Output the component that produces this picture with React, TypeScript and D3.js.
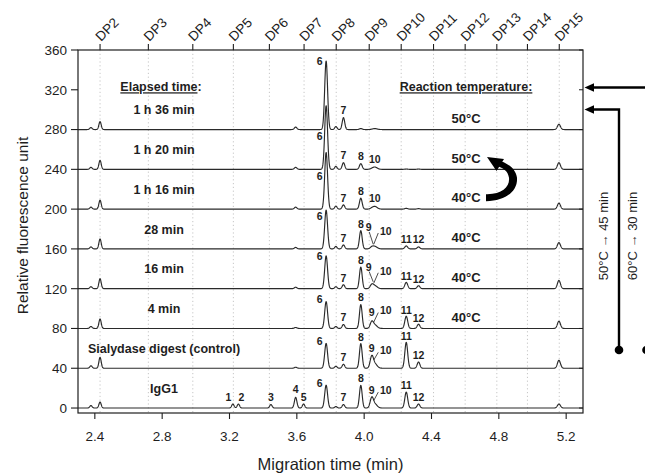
import React from "react";
import * as d3 from "d3";

// ---------- data ----------
const dpLabels = ["DP2", "DP3", "DP4", "DP5", "DP6", "DP7", "DP8", "DP9", "DP10", "DP11", "DP12", "DP13", "DP14", "DP15"];
const dpTimes = [2.431, 2.718, 2.982, 3.223, 3.437, 3.643, 3.834, 4.03, 4.22, 4.412, 4.6, 4.788, 4.97, 5.159];

const xTicks = [2.4, 2.8, 3.2, 3.6, 4.0, 4.4, 4.8, 5.2];
const yTicks = [0, 40, 80, 120, 160, 200, 240, 280, 320, 360];

const traceNames = ["IgG1", "Sialydase digest (control)", "4 min", "16 min", "28 min", "1 h 16 min", "1 h 20 min", "1 h 36 min"];
const traceOffsets = [0, 40, 80, 120, 160, 200, 240, 280];
const traceTemps = ["", "", "40°C", "40°C", "40°C", "40°C", "50°C", "50°C"];

// peak table (migration time, width)
const peakIds = ["a", "DP2", "1", "2", "3", "4", "5", "6", "b", "7", "8", "9", "10", "11", "12", "DP15"];
const peakTimes = [2.377, 2.431, 3.22, 3.253, 3.446, 3.593, 3.64, 3.774, 3.832, 3.877, 3.98, 4.045, 4.063, 4.25, 4.323, 5.157];
const peakSigmas = [0.007, 0.0068, 0.007, 0.007, 0.007, 0.0075, 0.007, 0.0085, 0.007, 0.0075, 0.008, 0.0095, 0.014, 0.0085, 0.008, 0.009];

// peak heights per electropherogram (RFU above its own baseline)
const heightsIgG1 = [2.5, 6, 4, 4, 3.5, 10.7, 4, 23, 1.5, 3.5, 22.7, 9.5, 4, 16, 4, 4];
const heightsControl = [2.5, 11, 0, 0, 0, 1, 0, 25, 2, 4, 24.7, 11, 4.5, 26, 6.3, 8];
const heights4min = [2, 9.5, 0, 0, 0, 1, 0, 27, 2, 4, 24, 6, 3.5, 12.3, 4.3, 7.3];
const heights16min = [2, 10, 0, 0, 0, 1.5, 0, 33, 2, 4, 21.7, 3.5, 3, 6.3, 3, 8.3];
const heights28min = [2, 10, 0, 0, 0, 1.5, 0, 39, 2.5, 4, 18.3, 1.5, 2.5, 3, 2, 6.3];
const heights1h16 = [2, 9, 0, 0, 0, 2, 0, 57, 3, 4.3, 11, 0.5, 2.7, 0.8, 0.5, 6];
const heights1h20 = [2, 9, 0, 0, 0, 2, 0, 64, 3, 6.7, 5.7, 0.3, 2.3, 0.3, 0.3, 6.7];
const heights1h36 = [2, 8, 0, 0, 0, 2.5, 0, 69, 3, 12, 1, 0, 1, 0, 0, 5.3];

const traceHeights = [heightsIgG1, heightsControl, heights4min, heights16min, heights28min, heights1h16, heights1h20, heights1h36];

const labelSets = [
  ["1", "2", "3", "4", "5", "6", "7", "8", "9", "10", "11", "12"],
  ["6", "7", "8", "9", "10", "11", "12"],
  ["6", "7", "8", "9", "10", "11", "12"],
  ["6", "7", "8", "9", "10", "11", "12"],
  ["6", "7", "8", "9", "10", "11", "12"],
  ["6", "7", "8", "10"],
  ["6", "7", "8", "10"],
  ["6", "7"],
];

// ---------- helpers ----------
const W = 645;
const H = 473;
const FONT = "'Liberation Sans', Arial, Helvetica, sans-serif";

const x = d3.scaleLinear().domain([2.3, 5.3]).range([78, 583]);
const y = d3.scaleLinear().domain([-5, 360]).range([413, 50]);

function signal(hs: number[], t: number): number {
  let s = 0;
  for (let i = 0; i < peakTimes.length; i++) {
    if (!hs[i]) continue;
    const z = (t - peakTimes[i]) / peakSigmas[i];
    if (Math.abs(z) < 8) s += hs[i] * Math.exp(-0.5 * z * z);
  }
  return s;
}

const sampleTimes = d3.range(2.3, 5.3001, 0.0012);
const lineGen = d3
  .line<[number, number]>()
  .x((d) => x(d[0]))
  .y((d) => y(d[1]));

export default function App() {
  const ink = "#1e1e1e";
  const traceColor = "#2a2a2a";

  const paths = traceHeights.map((hs, i) =>
    lineGen(sampleTimes.map((t) => [t, traceOffsets[i] + signal(hs, t)] as [number, number]))
  );

  // peak labels
  const labelEls: React.ReactNode[] = [];
  traceHeights.forEach((hs, i) => {
    const base = traceOffsets[i];
    const labels = labelSets[i];
    const has9 = labels.includes("9");
    labels.forEach((lab) => {
      const idx = peakIds.indexOf(lab);
      const t = peakTimes[idx];
      const top = signal(hs, t);
      let px = x(t);
      let v = top + 7;
      let leader: [number, number, number, number] | null = null;
      if (lab === "6") {
        px -= 6.5;
        v = i === traceHeights.length - 1 ? top : Math.min(top + 2, 33);
      } else if (lab === "1") {
        px -= 4.5;
      } else if (lab === "2") {
        px += 3;
      } else if (lab === "4") {
        v = top + 8;
      } else if (lab === "7") {
        v = Math.max(top + 7, 10);
      } else if (lab === "9") {
        if (top + 7 < 14) {
          v = 22;
          px -= 3;
          leader = [px + 0.5, y(base + v) + 5, x(t) + 1.5, y(base + top) - 2];
        } else {
          v = Math.max(top + 7, 16);
        }
      } else if (lab === "10") {
        if (has9) {
          v = 18;
          px += 11;
          leader = [x(t) - 1, y(base + top + 2), px - 7.5, y(base + v) + 2];
        } else {
          v = top + 8;
        }
      } else if (lab === "11" || lab === "12") {
        v = Math.max(top + 6.5, 9.5);
      }
      const py = y(base + v);
      labelEls.push(
        <text
          key={`l${i}-${lab}`}
          x={px}
          y={py}
          dy="0.36em"
          textAnchor="middle"
          fontSize={10.5}
          fontWeight="bold"
          fill={ink}
        >
          {lab}
        </text>
      );
      if (leader) {
        labelEls.push(
          <line
            key={`ll${i}-${lab}`}
            x1={leader[0]}
            y1={leader[1]}
            x2={leader[2]}
            y2={leader[3]}
            stroke={ink}
            strokeWidth={0.8}
          />
        );
      }
    });
  });

  const [x0, x1] = x.range();
  const [yb, yt] = y.range();

  // curved arrow between the 40°C and 50°C labels (1 h 16 / 1 h 20 min)
  const tx = 466;
  const ty16 = y(traceOffsets[5] + 11.5);
  const ty20 = y(traceOffsets[6] + 11.5);
  const ax = tx + 20;
  const mid = (ty16 + ty20) / 2;
  const bodyPath =
    `M${ax},${ty16 - 3.5} C${ax + 16},${ty16 - 3} ${ax + 24},${mid + 9} ${ax + 23},${mid} ` +
    `C${ax + 22},${mid - 7} ${ax + 17},${ty20 + 10} ${ax + 12.5},${ty20 + 8.5} ` +
    `L${ax + 15.5},${ty20 + 3.5} ` +
    `C${ax + 23},${ty20 + 6} ${ax + 30},${mid - 8} ${ax + 31},${mid} ` +
    `C${ax + 32},${mid + 13} ${ax + 20},${ty16 + 3.5} ${ax},${ty16 + 3.5} Z`;
  const headPts = `${ax + 1},${ty20 - 1} ${ax + 18},${ty20 + 1} ${ax + 10.5},${ty20 + 13}`;

  const arrowY1 = 87.5;
  const arrowY2 = 109.5;
  const vx = 619;
  const dotY = 350;

  return (
    <svg
      width={W}
      height={H}
      viewBox={`0 0 ${W} ${H}`}
      style={{ position: "absolute", left: 0, top: 0, background: "#fff" }}
      fontFamily={FONT}
    >
      <rect x={0} y={0} width={W} height={H} fill="#fff" />

      {/* DP grid lines */}
      {dpTimes.map((t, i) => (
        <line
          key={`g${i}`}
          x1={x(t)}
          x2={x(t)}
          y1={yt}
          y2={yb}
          stroke="#b8b8b8"
          strokeWidth={0.8}
          strokeDasharray="1.2,2.6"
        />
      ))}

      {/* traces */}
      {paths.map((d, i) => (
        <path key={`p${i}`} d={d || ""} fill="none" stroke={traceColor} strokeWidth={1.15} strokeLinejoin="round" />
      ))}

      {labelEls}

      {/* frame */}
      <rect x={x0} y={yt} width={x1 - x0} height={yb - yt} fill="none" stroke={ink} strokeWidth={1.2} />

      {/* left axis */}
      {yTicks.map((v) => (
        <g key={`yt${v}`}>
          <line x1={x0 - 7} x2={x0} y1={y(v)} y2={y(v)} stroke={ink} strokeWidth={1.1} />
          <line x1={x1 - 4} x2={x1} y1={y(v)} y2={y(v)} stroke={ink} strokeWidth={1} />
          <text x={x0 - 11} y={y(v)} dy="0.36em" textAnchor="end" fontSize={13.5} fill={ink}>
            {v}
          </text>
        </g>
      ))}

      {/* bottom axis */}
      {xTicks.map((t) => (
        <g key={`xt${t}`}>
          <line x1={x(t)} x2={x(t)} y1={yb} y2={yb + 6} stroke={ink} strokeWidth={1.1} />
          <text x={x(t)} y={yb + 28} textAnchor="middle" fontSize={13.5} fill={ink}>
            {t.toFixed(1)}
          </text>
        </g>
      ))}

      {/* top DP axis */}
      {dpTimes.map((t, i) => (
        <g key={`dp${i}`}>
          <line x1={x(t)} x2={x(t)} y1={yt} y2={yt - 6} stroke={ink} strokeWidth={1.1} />
          <text
            transform={`translate(${x(t) + 1},${yt - 8}) rotate(-45)`}
            textAnchor="start"
            fontSize={13.5}
            fill={ink}
          >
            {dpLabels[i]}
          </text>
        </g>
      ))}

      {/* axis titles */}
      <text x={(x0 + x1) / 2 + 0} y={470} textAnchor="middle" fontSize={16.5} fill={ink}>
        Migration time (min)
      </text>
      <text transform={`translate(22,${(yt + yb) / 2 - 6}) rotate(-90)`} textAnchor="middle" dy="0.36em" fontSize={15.5} fill={ink}>
        Relative fluorescence unit
      </text>

      {/* headers */}
      <text x={161} y={y(323)} dy="0.36em" textAnchor="middle" fontSize={12.5} fontWeight="bold" fill={ink}>
        <tspan textDecoration="underline">Elapsed time</tspan>:
      </text>
      <text x={466} y={y(323)} dy="0.36em" textAnchor="middle" fontSize={12.5} fontWeight="bold" fill={ink} textDecoration="underline">
        Reaction temperature:
      </text>

      {/* trace names and temperatures */}
      {traceNames.map((n, i) => (
        <text key={`n${i}`} x={164} y={y(traceOffsets[i] + 20)} dy="0.36em" textAnchor="middle" fontSize={12.5} fontWeight="bold" fill={ink}>
          {n}
        </text>
      ))}
      {traceTemps.map((tt, i) =>
        tt ? (
          <text key={`tp${i}`} x={tx} y={y(traceOffsets[i] + 11.5)} dy="0.36em" textAnchor="middle" fontSize={13} fontWeight="bold" fill={ink}>
            {tt}
          </text>
        ) : null
      )}

      {/* curved arrow */}
      <path d={bodyPath} fill="#000" />
      <polygon points={headPts} fill="#000" />

      {/* right side annotations */}
      <line x1={W + 2} x2={x1 + 8} y1={arrowY1} y2={arrowY1} stroke="#000" strokeWidth={2.4} />
      <polygon points={`${x1 + 1.5},${arrowY1} ${x1 + 11},${arrowY1 - 4.2} ${x1 + 11},${arrowY1 + 4.2}`} fill="#000" />
      <path d={`M${vx},${dotY} V${arrowY2} H${x1 + 8}`} fill="none" stroke="#000" strokeWidth={2.4} />
      <polygon points={`${x1 + 1.5},${arrowY2} ${x1 + 11},${arrowY2 - 4.2} ${x1 + 11},${arrowY2 + 4.2}`} fill="#000" />
      <circle cx={vx} cy={dotY} r={4.3} fill="#000" />
      <circle cx={646.5} cy={dotY} r={4.3} fill="#000" />
      <text transform={`translate(603,236) rotate(-90)`} textAnchor="middle" dy="0.36em" fontSize={13} fill={ink}>
        50°C → 45 min
      </text>
      <text transform={`translate(632,236) rotate(-90)`} textAnchor="middle" dy="0.36em" fontSize={13} fill={ink}>
        60°C → 30 min
      </text>
    </svg>
  );
}
